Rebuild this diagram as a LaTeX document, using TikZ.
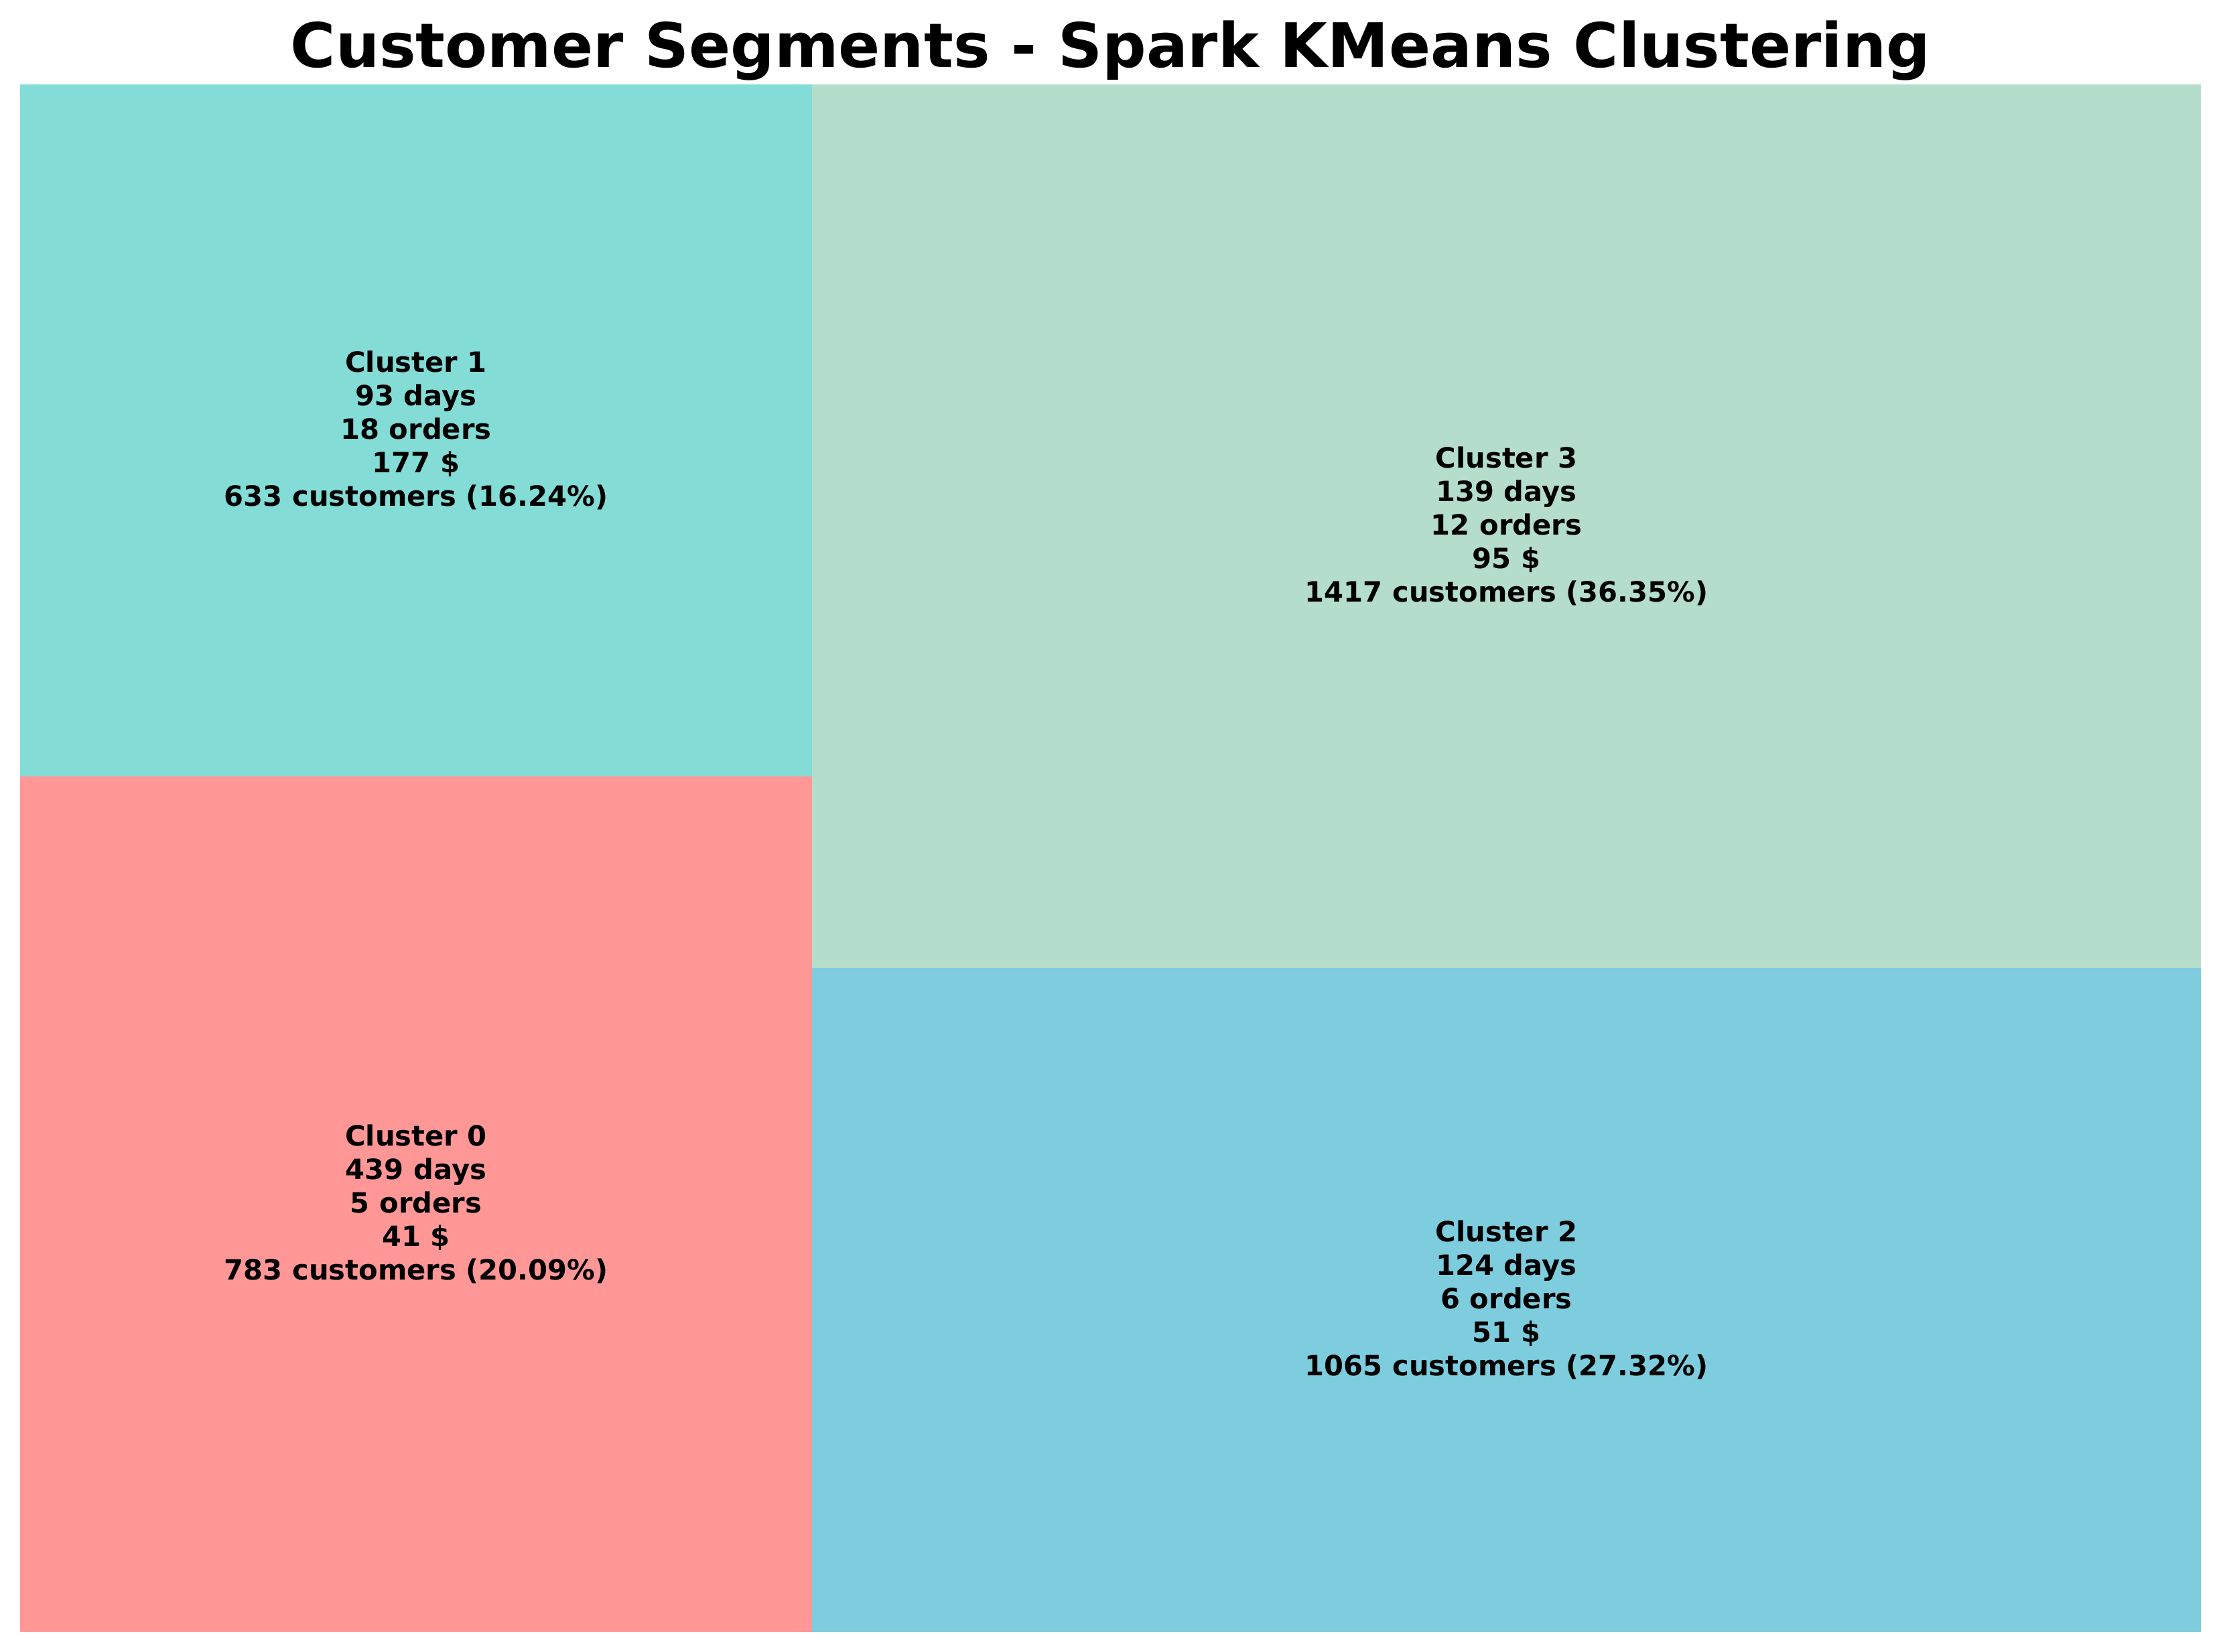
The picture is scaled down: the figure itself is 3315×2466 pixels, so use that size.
\documentclass[tikz,border=0pt]{standalone}
\usepackage{fontspec}
\setmainfont{DejaVu Sans}
\usepackage[dvipsnames]{xcolor}
\usepackage{tikz}

\definecolor{SegRed}{RGB}{255,151,151}
\definecolor{SegTeal}{RGB}{131,220,214}
\definecolor{SegBlue}{RGB}{125,205,223}
\definecolor{SegGreen}{RGB}{181,221,203}

\begin{document}
\begin{tikzpicture}[x=.24pt, y=-.24pt, every node/.style={align=center, inner sep=0pt, font=\bfseries\fontsize{10}{12}\selectfont}]
  \useasboundingbox (0, 0) rectangle (3315, 2466);
  \fill [SegRed] (30, 1159) rectangle (1212, 2436);
  \fill [SegTeal] (30, 126) rectangle (1212, 1159);
  \fill [SegBlue] (1212, 1445) rectangle (3285, 2436);
  \fill [SegGreen] (1212, 126) rectangle (3285, 1445);
  \node [anchor=base, font=\bfseries\fontsize{22}{26}\selectfont] (title) at (1657.5, 101) {Customer Segments - Spark KMeans Clustering};
  \node (c0) at (621, 1797.5) {Cluster 0\\439 days\\5 orders\\41 \$\\783 customers (20.09\%)};
  \node (c1) at (621, 642.5) {Cluster 1\\93 days\\18 orders\\177 \$\\633 customers (16.24\%)};
  \node (c2) at (2248.5, 1940.5) {Cluster 2\\124 days\\6 orders\\51 \$\\1065 customers (27.32\%)};
  \node (c3) at (2248.5, 785.5) {Cluster 3\\139 days\\12 orders\\95 \$\\1417 customers (36.35\%)};
\end{tikzpicture}
\end{document}
